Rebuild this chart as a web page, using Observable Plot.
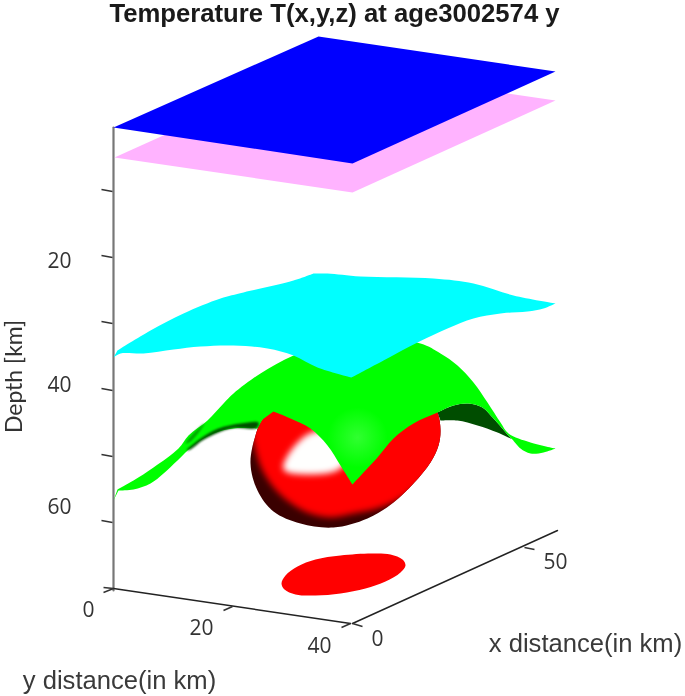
<!DOCTYPE html>
<html>
<head>
<meta charset="utf-8">
<style>html,body{margin:0;padding:0;background:#fff}svg{display:block;filter:blur(.5px)}</style>
<script src="https://cdn.jsdelivr.net/npm/d3@7"></script>
<script src="https://cdn.jsdelivr.net/npm/@observablehq/plot@0.6"></script>
</head>
<body>
<div id="chart"></div>
<script>
// Every shape below is a silhouette, in picture units.
// A point listed twice is a sharp corner of an otherwise smooth outline.
const titleText = "Temperature T(x,y,z) at age3002574 y";
const blueSheet = [[113,127],[318,36],[555,71],[352,163]];
const pinkSheet = [[114,157],[318,65],[555,100],[352,192]];
const cyanSurface = [[113,357],[113,357],[117,350],[117,350],[150,330],[183,313],[220,298],[243,292],[293,280],[313,273],[313,273],[327,273],[360,276],[433,278],[473,283],[513,295],[555,303],[555,303],[543,308],[527,311],[500,313],[473,318],[447,328],[417,342],[383,360],[351,377],[351,377],[317,367],[293,355],[267,348],[233,345],[200,346],[173,349],[143,353],[120,353]];
const greenSurface = [[113,500],[113,500],[117,489],[117,489],[133,480],[153,467],[178,448],[188,435],[207,420],[223,403],[233,393],[260,373],[293,355],[350,335],[420,343],[440,353],[457,365],[473,382],[487,402],[500,422],[508,433],[530,442],[555,448],[555,448],[543,452],[530,453],[520,448],[512,439],[512,439],[508,435],[493,418],[482,407],[468,403],[453,405],[437,412],[413,423],[393,438],[377,457],[363,472],[352,484],[352,484],[340,465],[327,445],[310,428],[290,418],[273,411],[273,411],[262,419],[262,419],[257,428],[257,428],[233,428],[213,433],[193,445],[177,460],[163,473],[150,483],[133,489],[118,490],[118,490]];
const darkRight = [[437,412],[437,412],[453,405],[468,403],[482,407],[493,418],[508,435],[512,439],[512,439],[497,432],[477,425],[457,420],[440,420],[440,420]];
const darkLeft = [[258,422],[240,423],[218,428],[200,438],[186,450],[190,449],[202,440],[218,432],[233,427.5],[256,427.5]];
const darkSliver = [[185,443],[192,434],[204,423],[199,431],[190,441]];
const ballOutline = [[262,419],[255,435],[250,463],[257,490],[273,511],[300,523],[333,527],[367,518],[393,502],[413,483],[430,462],[438,445],[440,430],[437,412],[425,395],[390,382],[340,378],[295,388]];
const ballLit = [[250,405],[257,457],[268,480],[283,497],[307,512],[330,517],[353,513],[380,507],[402,497],[425,478],[450,450],[450,390],[270,380]];
const ballGlare = [[315,431],[292,448],[283,469],[307,474],[340,468],[350,445]];
const floorSlice = [[281,583],[285,575],[297,566],[315,559],[340,555],[371,553],[390,554],[402,559],[405,565],[400,572],[385,581],[365,588],[340,593],[315,595],[295,594],[284,589]];

const depthAxis = [[113,127],[113,590]];
const yAxisLine = [[113,588],[350,623]];
const xAxisLine = [[352,623],[557,530]];
const tickStubs = [
  [101,189,112,191],[101,255,112,257],[101,321,112,323],[101,388,112,390],[101,454,112,456],[101,520,112,522],
  [103,587,113,588],[103,592,113,588],[223,610,232,606],[341,627,350,623],[362,626,352,623],[524,547,534,549]
];
const tickLabels = [["20",59,261],["40",59,385],["60",59,507],["0",88,610],["20",201,628],["40",319,646],["0",377,639],["50",555,562]];
const axisTitles = [["x distance(in km)",585,643],["y distance(in km)",119,680]];
const depthTitle = ["Depth [km]"];

const LIT = "#ff0001", GLARE = "#fffffe", SHADE = "#005000", SLIVER = "#00a000";
const poly = (pts, fill, curve = "catmull-rom-closed") =>
  Plot.line(pts, {x: d => d[0], y: d => d[1], fill, stroke: "none", curve});

const plot = Plot.plot({
  width: 685, height: 696,
  margin: 0,
  x: {domain: [0, 685], axis: null},
  y: {domain: [696, 0], axis: null},
  marks: [
    Plot.line(depthAxis, {x: d => d[0], y: d => d[1], stroke: "#777", strokeWidth: 2.2}),
    Plot.line(yAxisLine, {x: d => d[0], y: d => d[1], stroke: "#222", strokeWidth: 1.5}),
    Plot.line(xAxisLine, {x: d => d[0], y: d => d[1], stroke: "#222", strokeWidth: 1.5}),
    Plot.link(tickStubs, {x1: d => d[0], y1: d => d[1], x2: d => d[2], y2: d => d[3], stroke: "#333", strokeWidth: 1.4}),
    poly(floorSlice, "#ff0000"),
    poly(darkRight, "#004d00"),
    poly(ballOutline, "#3a0000"),
    poly(ballLit, LIT),
    poly(ballGlare, GLARE),
    poly(greenSurface, "url(#greenGlow)"),
    poly(darkLeft, SHADE),
    poly(darkSliver, SLIVER),
    poly(cyanSurface, "#00ffff"),
    poly(pinkSheet, "#ffb3ff", "linear-closed"),
    poly(blueSheet, "#0000ff", "linear-closed"),
    Plot.text(tickLabels, {x: d => d[1], y: d => d[2], text: d => d[0], fontSize: 21, fill: "#333", fontFamily: "Open Sans"}),
    Plot.text(axisTitles, {x: d => d[1], y: d => d[2], text: d => d[0], fontSize: 25.6, fill: "#3a3a3a", fontFamily: "Liberation Sans"}),
    Plot.text(depthTitle, {x: () => 14, y: () => 376, text: d => d, rotate: -90, fontSize: 23, fill: "#333", fontFamily: "Lato"}),
    Plot.text([titleText], {x: () => 334, y: () => 13.3, text: d => d, fontSize: 25.7, fontWeight: "bold", fill: "#1a1a1a", fontFamily: "Liberation Sans"})
  ]
});

// Soft shading: gradient, blur and clip definitions that the fills above refer to.
const sx = plot.scale("x"), sy = plot.scale("y");
const ballPath = d3.line().x(d => sx.apply(d[0])).y(d => sy.apply(d[1])).curve(d3.curveCatmullRomClosed)(ballOutline);
const defs = d3.select(plot).insert("defs", ":first-child");
const glow = defs.append("radialGradient").attr("id", "greenGlow").attr("gradientUnits", "userSpaceOnUse")
  .attr("cx", 357).attr("cy", 437).attr("r", 30);
glow.append("stop").attr("offset", 0).attr("stop-color", "#30ff30");
glow.append("stop").attr("offset", 1).attr("stop-color", "#00ff00");
const blur = (id, s) => defs.append("filter").attr("id", id).attr("x", "-30%").attr("y", "-30%").attr("width", "160%").attr("height", "160%")
  .append("feGaussianBlur").attr("stdDeviation", s);
blur("softLit", 3); blur("softGlare", 3); blur("softShade", 1.3);
defs.append("clipPath").attr("id", "ballClip").append("path").attr("d", ballPath);
const litMark = plot.querySelector(`g[fill="${LIT}"]`);
litMark.querySelector("path").setAttribute("filter", "url(#softLit)");
litMark.setAttribute("clip-path", "url(#ballClip)");
plot.querySelector(`g[fill="${GLARE}"] path`).setAttribute("filter", "url(#softGlare)");
plot.querySelector(`g[fill="${SHADE}"] path`).setAttribute("filter", "url(#softShade)");
plot.querySelector(`g[fill="${SLIVER}"] path`).setAttribute("filter", "url(#softShade)");

document.getElementById("chart").appendChild(plot);
</script>
</body>
</html>
